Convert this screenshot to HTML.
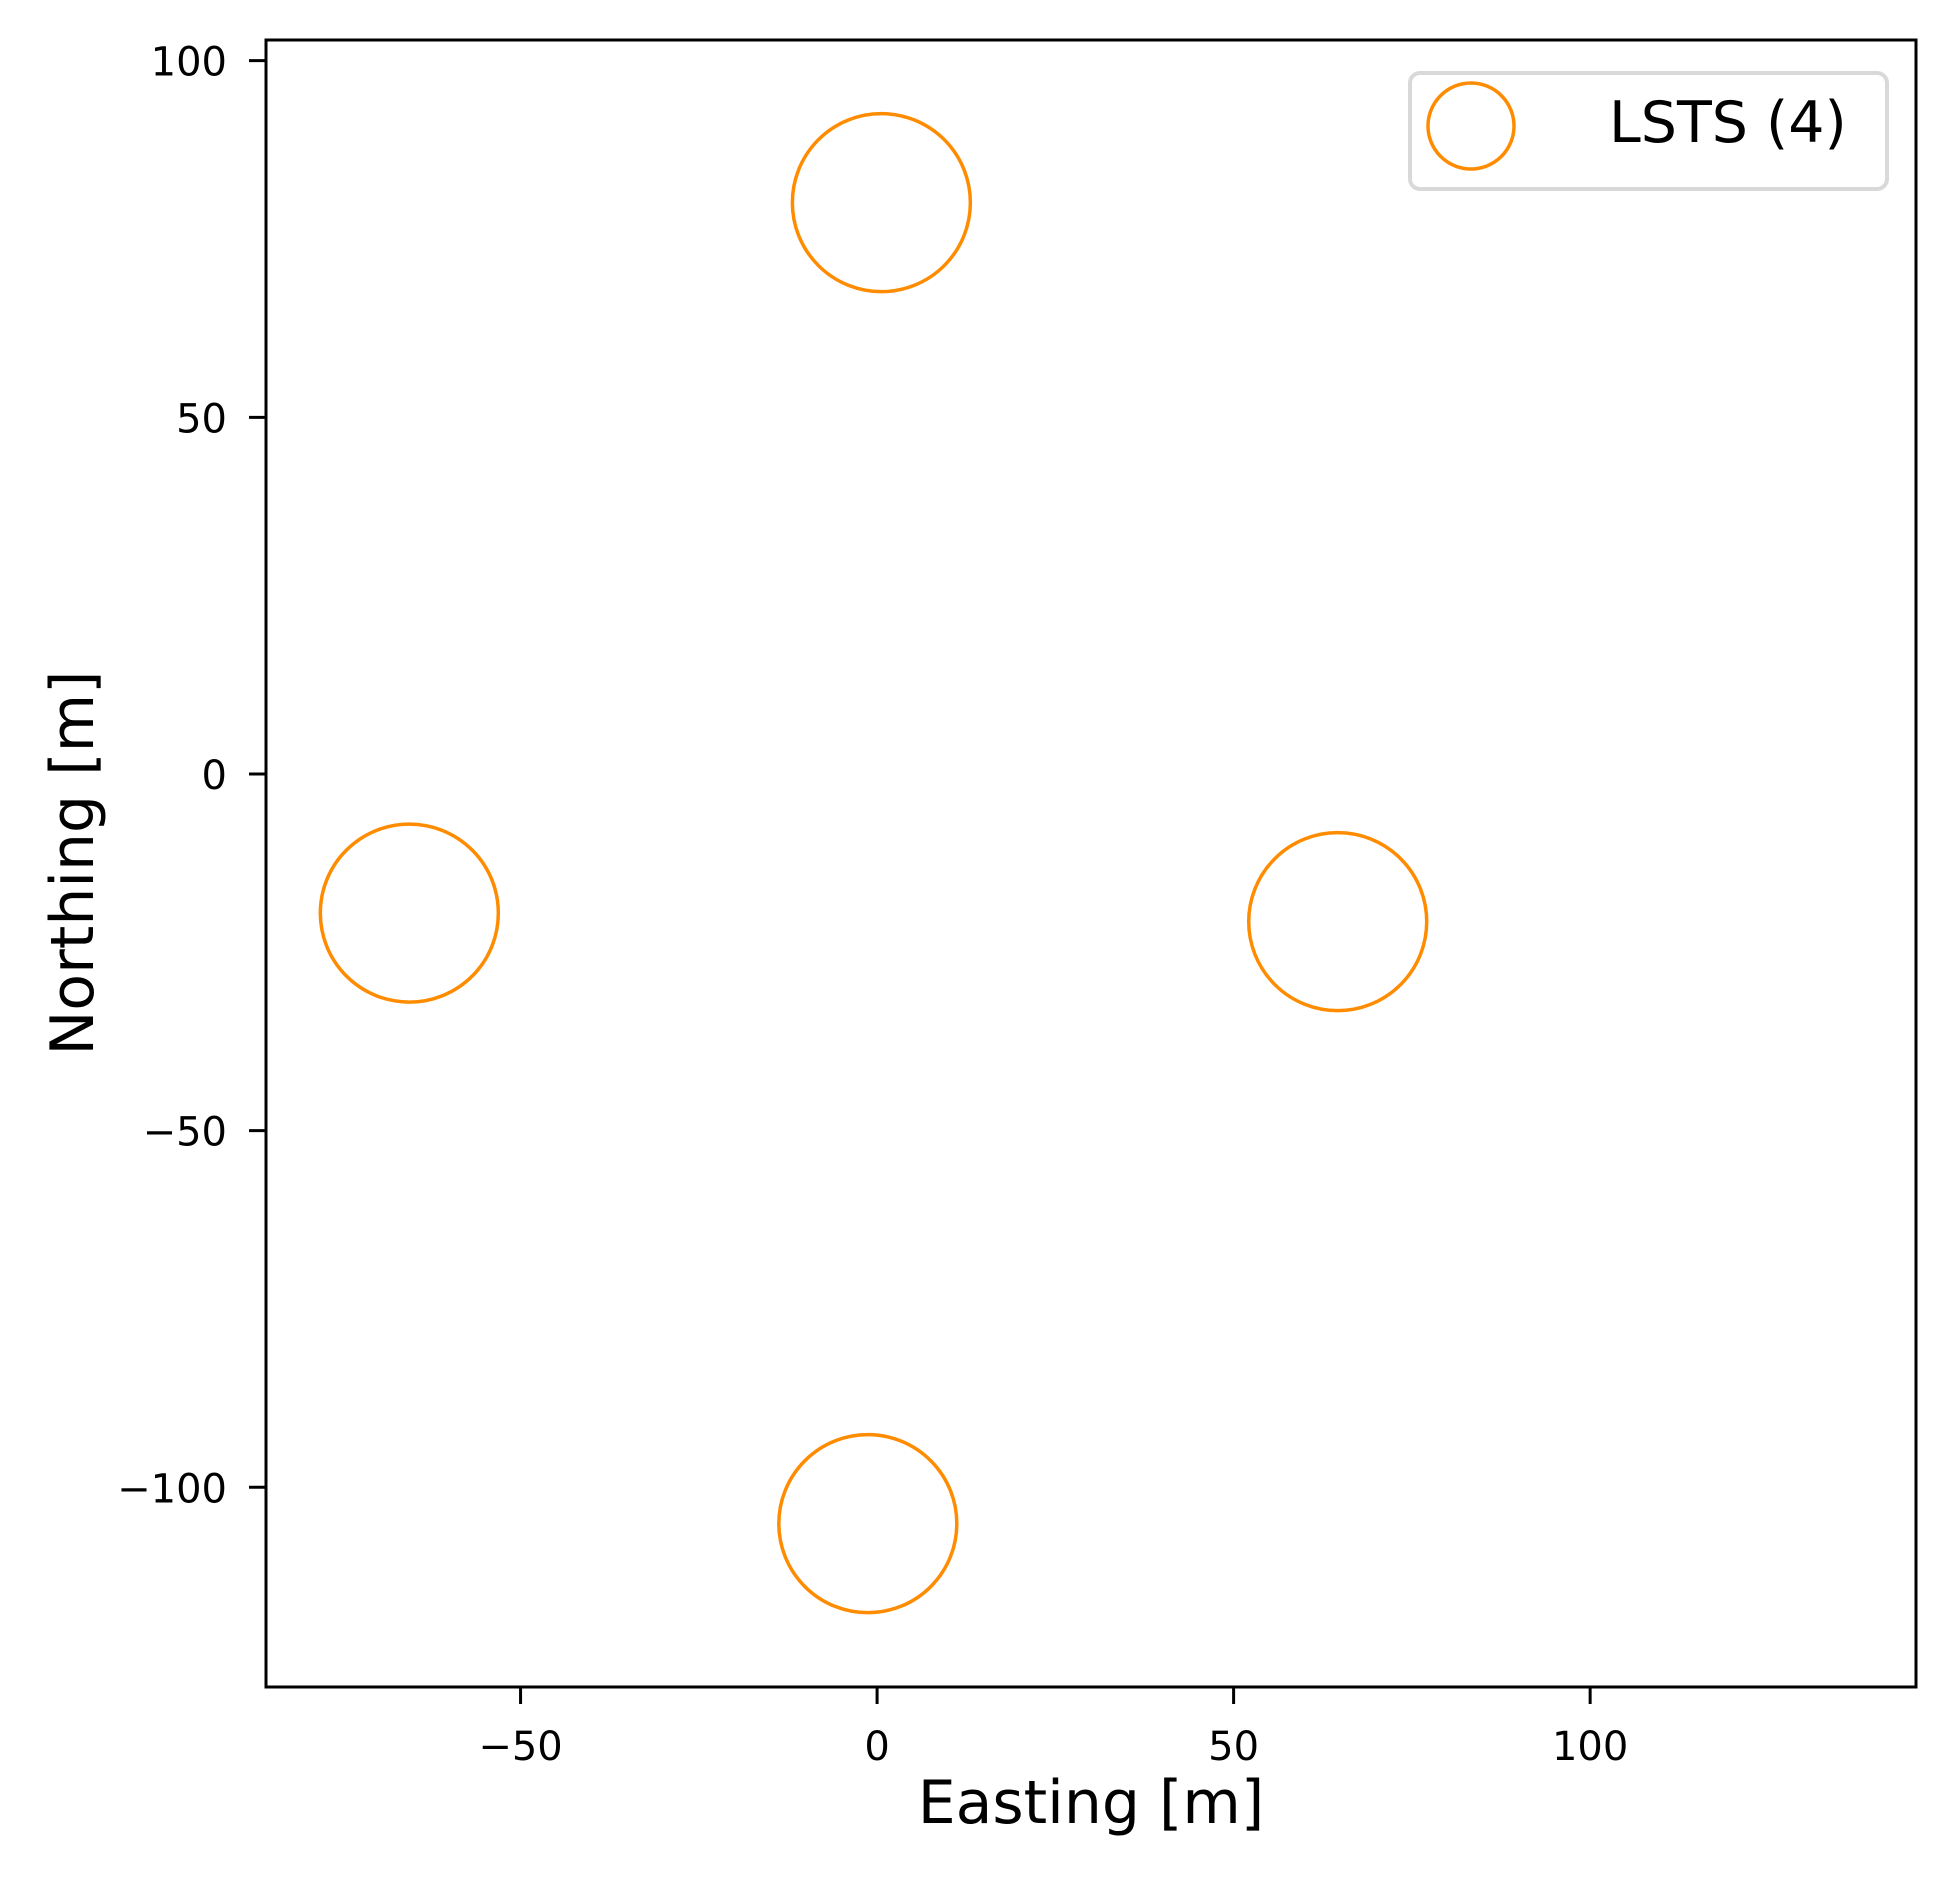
<!DOCTYPE html>
<html><head><meta charset="utf-8"><style>
html,body{margin:0;padding:0;background:#fff}
svg{display:block;font-family:"DejaVu Sans","Liberation Sans",sans-serif}
</style></head><body>
<svg id="chart" width="1955" height="1877" viewBox="0 0 1955 1877">
<g id="ticks"></g>
<g id="marks"></g>
<rect x="266" y="40" width="1650" height="1647" fill="none" stroke="#000" stroke-width="3"/>
<text x="1091" y="1823" font-size="60" text-anchor="middle">Easting [m]</text>
<text transform="translate(93,863) rotate(-90)" font-size="60" text-anchor="middle">Northing [m]</text>
<g>
<rect x="1410" y="73" width="477" height="116" rx="10" fill="#fff" stroke="#d9d9d9" stroke-width="4"/>
<circle cx="1471" cy="126" r="43" fill="none" stroke="#ff8c00" stroke-width="3.5"/>
<text x="1609" y="142" font-size="57">LSTS (4)</text>
</g>
</svg>
<script>
const xTicks=[-50,0,50,100];
const yTicks=[-100,-50,0,50,100];
const eastings=[0.6,-65.6,64.6,-1.3];
const northings=[80.1,-19.5,-20.7,-105.1];
const NS='http://www.w3.org/2000/svg';
const x0=-85.7,x1=145.7,y0=-128,y1=102.9;
const L=266,R=1916,T=40,B=1687;
function sx(v){return L+(v-x0)/(x1-x0)*(R-L);}
function sy(v){return B-(v-y0)/(y1-y0)*(B-T);}
const tg=document.getElementById('ticks');
function mk(tag,attrs,parent){const e=document.createElementNS(NS,tag);for(const k in attrs)e.setAttribute(k,attrs[k]);parent.appendChild(e);return e;}
function lab(v){return v<0?'\u2212'+Math.abs(v):String(v);}
xTicks.forEach(v=>{
 const l=mk('line',{x1:sx(v),x2:sx(v),y1:B,y2:B+17,stroke:'#000','stroke-width':3},tg);
 
 
 const t=mk('text',{x:sx(v),y:1760,'font-size':40,'text-anchor':'middle'},tg);
 t.textContent=lab(v);
 
 
});
yTicks.forEach(v=>{
 const l=mk('line',{x1:L-17,x2:L,y1:sy(v),y2:sy(v),stroke:'#000','stroke-width':3},tg);
 
 
 const t=mk('text',{x:227,y:sy(v)+15,'font-size':40,'text-anchor':'end'},tg);
 t.textContent=lab(v);
 
 
});
const mg=document.getElementById('marks');
eastings.forEach((e,i)=>{
 const c=mk('circle',{cx:sx(e),cy:sy(northings[i]),r:89,fill:'none',stroke:'#ff8c00','stroke-width':3.5},mg);
 
 
});
</script>
</body></html>
